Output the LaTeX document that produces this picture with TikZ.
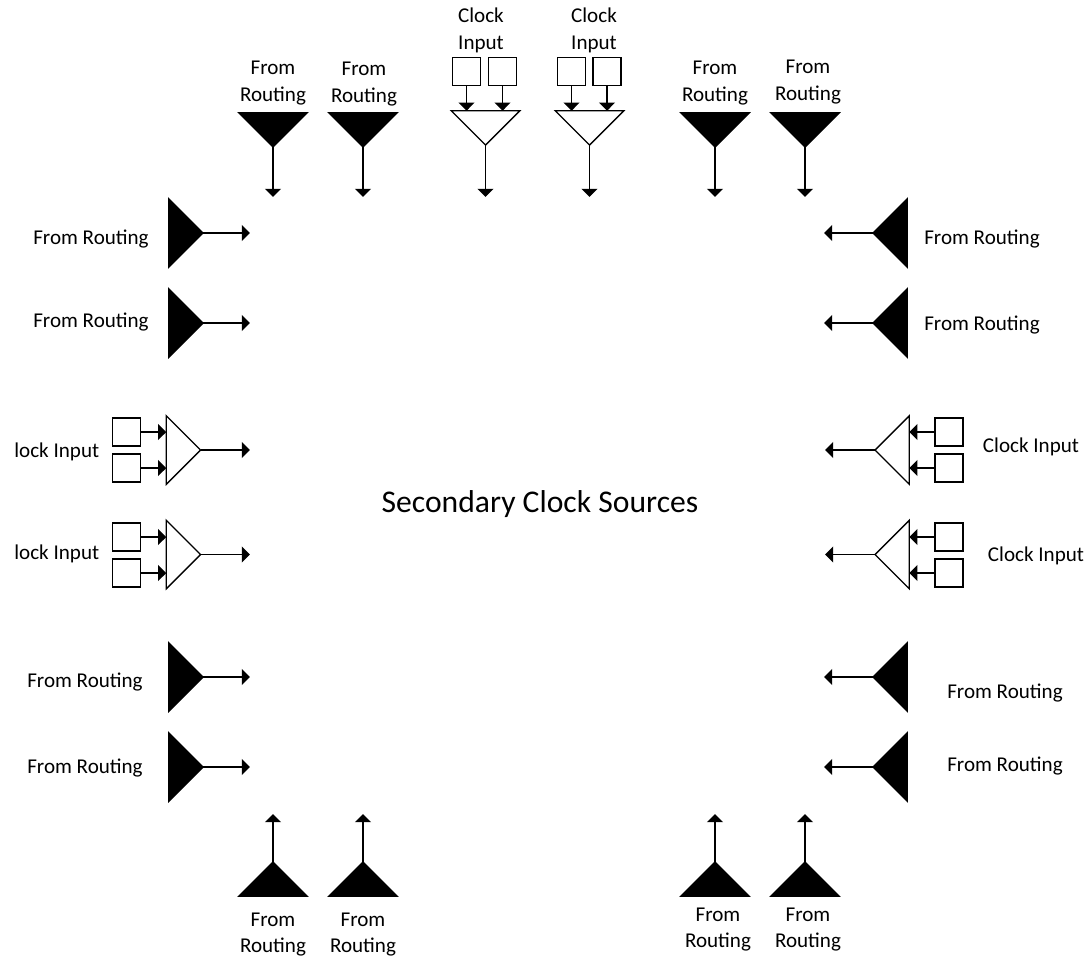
\documentclass[tikz,border=0pt]{standalone}
\usepackage{fontspec}
\setmainfont{Carlito}
\usetikzlibrary{arrows.meta,shapes.geometric}
\begin{document}
\begin{tikzpicture}[x=0.02cm,y=-0.02cm]
\tikzset{buf/.style = {shape=isosceles triangle,isosceles triangle apex angle=90,
		draw,line width=0.8pt,inner sep=0pt,outer sep=0pt,minimum height=0.685cm,minimum width=1.37cm,
		isosceles triangle stretches,anchor=apex}}
\tikzset{src/.style = {buf,fill=black}}
\tikzset{clk/.style = {buf,fill=white}}
\tikzset{down/.style = {shape border rotate=270}}
\tikzset{up/.style = {shape border rotate=90}}
\tikzset{left/.style = {shape border rotate=180}}
\tikzset{pad/.style = {shape=rectangle,draw,line width=0.8pt,inner sep=0pt,minimum size=0.56cm}}
\tikzset{edge/.style = {-{Triangle[width=9pt,length=4.6pt]},line width=0.8pt}}
\tikzset{lbl/.style = {align=center,inner sep=0pt,font=\fontsize{12}{15.3}\selectfont}}
\useasboundingbox (0,0) rectangle (1086,957);
% top row
\node[src,down] (t1) at (273,147) {};
\node[src,down] (t2) at (363,147) {};
\node[clk,down] (t3) at (485.5,145) {};
\node[clk,down] (t4) at (589.5,145) {};
\node[src,down] (t5) at (715,147) {};
\node[src,down] (t6) at (805,147) {};
\coordinate (t1e) at (273,197);
\coordinate (t2e) at (363,197);
\coordinate (t3e) at (485.5,197);
\coordinate (t4e) at (589.5,197);
\coordinate (t5e) at (715,197);
\coordinate (t6e) at (805,197);
\node[pad] (t3a) at (466.5,71.5) {};
\node[pad] (t3b) at (502.5,71.5) {};
\node[pad] (t4a) at (571.5,71.5) {};
\node[pad] (t4b) at (607,71.5) {};
% left column
\node[src] (l1) at (203,233) {};
\node[src] (l2) at (203,323) {};
\node[clk] (l3) at (200.5,450) {};
\node[clk] (l4) at (200.5,554.5) {};
\node[src] (l5) at (203,677) {};
\node[src] (l6) at (203,767) {};
\coordinate (l1e) at (250,233);
\coordinate (l2e) at (250,323);
\coordinate (l3e) at (250,450);
\coordinate (l4e) at (250,554.5);
\coordinate (l5e) at (250,677);
\coordinate (l6e) at (250,767);
\node[pad] (l3a) at (126.5,432) {};
\node[pad] (l3b) at (126.5,468) {};
\node[pad] (l4a) at (126.5,537) {};
\node[pad] (l4b) at (126.5,573) {};
% right column
\node[src,left] (r1) at (873,233) {};
\node[src,left] (r2) at (873,323) {};
\node[clk,left] (r3) at (875,450) {};
\node[clk,left] (r4) at (875,554.5) {};
\node[src,left] (r5) at (873,677) {};
\node[src,left] (r6) at (873,767) {};
\coordinate (r1e) at (824,233);
\coordinate (r2e) at (824,323);
\coordinate (r3e) at (825,450);
\coordinate (r4e) at (825,554.5);
\coordinate (r5e) at (824,677);
\coordinate (r6e) at (824,767);
\node[pad] (r3a) at (949,432) {};
\node[pad] (r3b) at (949,468) {};
\node[pad] (r4a) at (949,537) {};
\node[pad] (r4b) at (949,573) {};
% bottom row
\node[src,up] (b1) at (273,862) {};
\node[src,up] (b2) at (363,862) {};
\node[src,up] (b3) at (715,862) {};
\node[src,up] (b4) at (805,862) {};
\coordinate (b1e) at (273,814);
\coordinate (b2e) at (363,814);
\coordinate (b3e) at (715,814);
\coordinate (b4e) at (805,814);
% labels
\node[lbl] (tx1) at (273,83) {From\\Routing};
\node[lbl] (tx2) at (364,84) {From\\Routing};
\node[lbl] (tx3) at (481,30.5) {Clock\\Input};
\node[lbl] (tx4) at (594,30.5) {Clock\\Input};
\node[lbl] (tx5) at (715,83) {From\\Routing};
\node[lbl] (tx6) at (808,82) {From\\Routing};
\node[lbl] (lx1) at (91,239) {From Routing};
\node[lbl] (lx2) at (91,322) {From Routing};
\node[lbl,anchor=west] (lx3) at (14,452) {lock Input};
\node[lbl,anchor=west] (lx4) at (14,554) {lock Input};
\node[lbl] (lx5) at (85,682) {From Routing};
\node[lbl] (lx6) at (85,768) {From Routing};
\node[lbl] (rx1) at (982,239) {From Routing};
\node[lbl] (rx2) at (982,325) {From Routing};
\node[lbl] (rx3) at (1031,447) {Clock Input};
\node[lbl] (rx4) at (1036,556) {Clock Input};
\node[lbl] (rx5) at (1005,693) {From Routing};
\node[lbl] (rx6) at (1005,766) {From Routing};
\node[lbl] (bx1) at (273,934.5) {From\\Routing};
\node[lbl] (bx2) at (363,934.5) {From\\Routing};
\node[lbl] (bx3) at (718,929.5) {From\\Routing};
\node[lbl] (bx4) at (808,929.5) {From\\Routing};
\node[lbl,font=\fontsize{18}{20}\selectfont] (title) at (540,504) {Secondary Clock Sources};
% edges
\draw[edge] (t1) to (t1e);
\draw[edge] (t2) to (t2e);
\draw[edge] (t3) to (t3e);
\draw[edge] (t4) to (t4e);
\draw[edge] (t5) to (t5e);
\draw[edge] (t6) to (t6e);
\draw[edge] (t3a) to (t3a |- t3.lower side);
\draw[edge] (t3b) to (t3b |- t3.lower side);
\draw[edge] (t4a) to (t4a |- t4.lower side);
\draw[edge] (t4b) to (t4b |- t4.lower side);

\draw[edge] (l1) to (l1e);
\draw[edge] (l2) to (l2e);
\draw[edge] (l3) to (l3e);
\draw[edge] (l4) to (l4e);
\draw[edge] (l5) to (l5e);
\draw[edge] (l6) to (l6e);
\draw[edge] (l3a) to (l3a -| l3.lower side);
\draw[edge] (l3b) to (l3b -| l3.lower side);
\draw[edge] (l4a) to (l4a -| l4.lower side);
\draw[edge] (l4b) to (l4b -| l4.lower side);

\draw[edge] (r1) to (r1e);
\draw[edge] (r2) to (r2e);
\draw[edge] (r3) to (r3e);
\draw[edge] (r4) to (r4e);
\draw[edge] (r5) to (r5e);
\draw[edge] (r6) to (r6e);
\draw[edge] (r3a) to (r3a -| r3.lower side);
\draw[edge] (r3b) to (r3b -| r3.lower side);
\draw[edge] (r4a) to (r4a -| r4.lower side);
\draw[edge] (r4b) to (r4b -| r4.lower side);

\draw[edge] (b1) to (b1e);
\draw[edge] (b2) to (b2e);
\draw[edge] (b3) to (b3e);
\draw[edge] (b4) to (b4e);
\end{tikzpicture}
\end{document}
